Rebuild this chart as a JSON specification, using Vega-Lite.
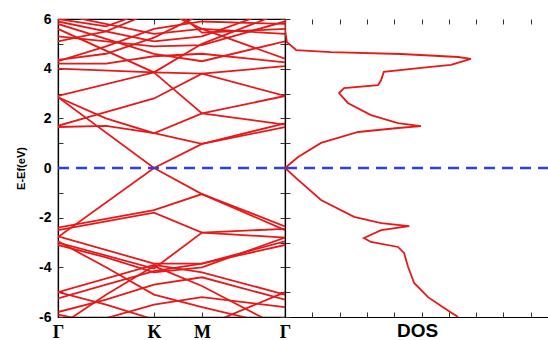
{
  "$schema": "https://vega.github.io/schema/vega-lite/v6.json",
  "autosize": {"type": "pad"},
  "padding": {"left": 14, "top": 11, "right": 0, "bottom": 0},
  "background": "white",
  "spacing": 0,
  "bounds": "flush",
  "config": {
    "view": {"stroke": "black", "strokeWidth": 1.2},
    "axis": {"domainColor": "black", "domainWidth": 1.2, "tickColor": "#333333", "labelColor": "black", "titleColor": "black", "grid": false}
  },
  "datasets": {
    "fermi": [{"E": 0}],
    "bands": [
      {"b":"b1","k":0,"E":2.85},{"b":"b1","k":1,"E":0},{"b":"b1","k":1.5,"E":0.97},{"b":"b1","k":2.365,"E":1.65},
      {"b":"b2","k":0,"E":1.65},{"b":"b2","k":0.5,"E":1.7},{"b":"b2","k":1,"E":1.4},{"b":"b2","k":1.5,"E":0.97},{"b":"b2","k":2.365,"E":1.8},
      {"b":"b3","k":0,"E":2.85},{"b":"b3","k":0.5,"E":2.0},{"b":"b3","k":1,"E":1.4},{"b":"b3","k":1.5,"E":2.2},{"b":"b3","k":2.365,"E":2.9},
      {"b":"b4","k":0,"E":1.7},{"b":"b4","k":0.36,"E":2.1},{"b":"b4","k":1,"E":2.8},{"b":"b4","k":1.5,"E":3.8},{"b":"b4","k":2.365,"E":4.1},
      {"b":"b5","k":0,"E":2.9},{"b":"b5","k":1,"E":3.85},{"b":"b5","k":1.5,"E":2.2},{"b":"b5","k":2.365,"E":1.75},
      {"b":"b6","k":0,"E":4.0},{"b":"b6","k":1,"E":3.85},{"b":"b6","k":1.5,"E":3.8},{"b":"b6","k":2.365,"E":2.9},
      {"b":"b7","k":0,"E":5.6},{"b":"b7","k":1,"E":3.85},{"b":"b7","k":1.5,"E":5.0},{"b":"b7","k":2.365,"E":6.3},
      {"b":"b8","k":0,"E":4.2},{"b":"b8","k":0.5,"E":4.2},{"b":"b8","k":1,"E":4.5},{"b":"b8","k":1.5,"E":4.6},{"b":"b8","k":2.365,"E":4.25},
      {"b":"b9","k":0,"E":5.1},{"b":"b9","k":0.5,"E":5.5},{"b":"b9","k":1,"E":6.3},
      {"b":"b10","k":0,"E":5.8},{"b":"b10","k":0.5,"E":5.2},{"b":"b10","k":1,"E":4.6},{"b":"b10","k":1.5,"E":4.3},{"b":"b10","k":2.365,"E":5.1},
      {"b":"b11","k":0,"E":6.2},{"b":"b11","k":1,"E":5.4},{"b":"b11","k":1.5,"E":5.6},{"b":"b11","k":2.365,"E":5.4},
      {"b":"b12","k":0,"E":4.3},{"b":"b12","k":0.5,"E":4.9},{"b":"b12","k":1,"E":5.6},{"b":"b12","k":1.5,"E":5.9},{"b":"b12","k":2.365,"E":5.8},
      {"b":"b13","k":0,"E":5.3},{"b":"b13","k":1,"E":4.9},{"b":"b13","k":1.5,"E":4.95},{"b":"b13","k":2.365,"E":5.9},
      {"b":"b14","k":0,"E":6.0},{"b":"b14","k":0.5,"E":5.7},{"b":"b14","k":1,"E":6.4},
      {"b":"b15","k":1,"E":6.5},{"b":"b15","k":1.5,"E":5.6},{"b":"b15","k":2.365,"E":4.4},
      {"b":"b16","k":0,"E":5.9},{"b":"b16","k":1,"E":5.1},{"b":"b16","k":1.5,"E":5.3},{"b":"b16","k":2.365,"E":6.5},
      {"b":"b17","k":0,"E":4.35},{"b":"b17","k":0.5,"E":4.6},{"b":"b17","k":1,"E":5.25},{"b":"b17","k":1.5,"E":6.2},
      {"b":"b18","k":1.2,"E":6.4},{"b":"b18","k":1.5,"E":5.45},{"b":"b18","k":2.365,"E":5.6},
      {"b":"c1","k":0,"E":-2.78},{"b":"c1","k":1,"E":0},{"b":"c1","k":1.5,"E":-1.05},{"b":"c1","k":2.365,"E":-2.35},
      {"b":"c2","k":0,"E":-2.4},{"b":"c2","k":0.5,"E":-2.05},{"b":"c2","k":1,"E":-1.7},{"b":"c2","k":1.5,"E":-1.05},{"b":"c2","k":2.365,"E":-2.5},
      {"b":"c3","k":0,"E":-2.5},{"b":"c3","k":0.5,"E":-2.15},{"b":"c3","k":1,"E":-1.8},{"b":"c3","k":1.5,"E":-2.6},{"b":"c3","k":2.365,"E":-2.8},
      {"b":"c4","k":0,"E":-2.75},{"b":"c4","k":1,"E":-3.85},{"b":"c4","k":1.5,"E":-3.85},{"b":"c4","k":2.365,"E":-2.95},
      {"b":"c5","k":0,"E":-3.0},{"b":"c5","k":1,"E":-4.05},{"b":"c5","k":1.5,"E":-2.6},{"b":"c5","k":2.365,"E":-2.45},
      {"b":"c6","k":0,"E":-5.0},{"b":"c6","k":1,"E":-3.9},{"b":"c6","k":1.5,"E":-4.2},{"b":"c6","k":2.365,"E":-5.1},
      {"b":"c7","k":0,"E":-5.0},{"b":"c7","k":0.5,"E":-5.5},{"b":"c7","k":1,"E":-6.1},{"b":"c7","k":1.5,"E":-6.6},
      {"b":"c8","k":0,"E":-5.25},{"b":"c8","k":0.5,"E":-4.7},{"b":"c8","k":1,"E":-4.15},{"b":"c8","k":1.5,"E":-3.85},{"b":"c8","k":2.365,"E":-3.1},
      {"b":"c9","k":0,"E":-5.8},{"b":"c9","k":0.5,"E":-5.3},{"b":"c9","k":1,"E":-4.7},{"b":"c9","k":1.5,"E":-4.4},{"b":"c9","k":2.365,"E":-5.3},
      {"b":"c10","k":0,"E":-2.95},{"b":"c10","k":0.5,"E":-4.0},{"b":"c10","k":1,"E":-5.1},{"b":"c10","k":1.5,"E":-5.6},{"b":"c10","k":2.365,"E":-6.4},
      {"b":"c11","k":0,"E":-6.4},{"b":"c11","k":0.5,"E":-5.1},{"b":"c11","k":1,"E":-3.95},{"b":"c11","k":1.5,"E":-4.75},{"b":"c11","k":2.365,"E":-6.5},
      {"b":"c12","k":0,"E":-5.9},{"b":"c12","k":0.5,"E":-6.3},{"b":"c12","k":1,"E":-6.6},{"b":"c12","k":1.5,"E":-6.4},{"b":"c12","k":2.365,"E":-5.0},
      {"b":"c13","k":0,"E":-3.1},{"b":"c13","k":0.5,"E":-3.6},{"b":"c13","k":1,"E":-4.2},{"b":"c13","k":1.5,"E":-4.0},{"b":"c13","k":2.365,"E":-2.8},
      {"b":"c14","k":0,"E":-6.6},{"b":"c14","k":1,"E":-5.5},{"b":"c14","k":1.5,"E":-5.2},{"b":"c14","k":2.365,"E":-5.6}
    ],
    "dos": [
      {"d":0,"E":6.0},{"d":0,"E":5.56},{"d":0.07,"E":5.07},{"d":0.41,"E":4.75},{"d":1.68,"E":4.67},{"d":4.25,"E":4.59},{"d":6.34,"E":4.47},{"d":6.81,"E":4.39},{"d":6.08,"E":4.15},{"d":4.98,"E":4.03},{"d":3.62,"E":3.87},{"d":3.52,"E":3.54},{"d":3.41,"E":3.34},{"d":2.16,"E":3.22},{"d":1.98,"E":3.02},{"d":2.30,"E":2.62},{"d":3.15,"E":2.13},{"d":4.14,"E":1.81},{"d":4.98,"E":1.69},{"d":4.14,"E":1.61},{"d":2.68,"E":1.45},{"d":1.32,"E":1.01},{"d":0.48,"E":0.44},{"d":0,"E":0},{"d":0.48,"E":-0.48},{"d":1.32,"E":-1.29},{"d":2.53,"E":-1.97},{"d":3.52,"E":-2.22},{"d":4.55,"E":-2.34},{"d":3.52,"E":-2.50},{"d":2.89,"E":-2.82},{"d":3.15,"E":-2.98},{"d":4.14,"E":-3.18},{"d":4.36,"E":-3.42},{"d":4.51,"E":-3.99},{"d":4.73,"E":-4.63},{"d":5.24,"E":-5.20},{"d":5.83,"E":-5.64},{"d":6.34,"E":-6.0}
    ]
  },
  "hconcat": [
    {
      "width": 227,
      "height": 298,
      "resolve": {"axis": {"x": "independent", "y": "independent"}},
      "layer": [
        {
          "data": {"name": "bands"},
          "mark": {"type": "line", "clip": true, "color": "#e81818", "strokeWidth": 1.8},
          "encoding": {
            "x": {"field": "k", "type": "quantitative",
              "scale": {"domain": [0, 2.365], "nice": false, "zero": false},
              "axis": {"orient": "bottom", "values": [0, 1, 1.5, 2.365], "title": null,
                "labelExpr": "datum.value == 1 ? 'K' : (datum.value == 1.5 ? 'M' : 'Γ')",
                "labelFont": "Liberation Serif", "labelFontSize": 18, "labelFontWeight": "bold",
                "tickSize": -5, "labelPadding": 11, "labelFlush": false, "labelOverlap": false}},
            "y": {"field": "E", "type": "quantitative",
              "scale": {"domain": [-6, 6], "nice": false},
              "axis": {"orient": "left", "values": [-6,-5,-4,-3,-2,-1,0,1,2,3,4,5,6],
                "labelExpr": "datum.value % 2 == 0 ? toString(datum.value) : ''",
                "labelFont": "Liberation Sans", "labelFontSize": 14, "labelFontWeight": "bold",
                "tickSize": -5, "labelPadding": 12, "labelFlush": false, "labelOverlap": false,
                "title": "E-Ef(eV)", "titleFont": "Liberation Sans", "titleFontSize": 11, "titleFontWeight": "bold", "titlePadding": 12}},
            "detail": {"field": "b"}
          }
        },
        {
          "mark": {"type": "rule", "color": "black", "strokeWidth": 1},
          "encoding": {
            "y": {"datum": 6, "axis": {"orient": "right", "values": [-6,-5,-4,-3,-2,-1,0,1,2,3,4,5,6], "labels": false, "tickSize": -5, "domain": false, "title": null}},
            "x": {"datum": 0, "axis": {"orient": "top", "values": [1, 1.5], "labels": false, "tickSize": -5, "domain": false, "title": null}},
            "x2": {"datum": 2.365}
          }
        },
        {
          "data": {"name": "fermi"},
          "mark": {"type": "rule", "color": "#2f3fe6", "strokeWidth": 2.5, "strokeDash": [11, 7]},
          "encoding": {
            "y": {"field": "E", "type": "quantitative", "axis": null}
          }
        }
      ]
    },
    {
      "width": 264,
      "height": 298,
      "view": {"stroke": null},
      "resolve": {"axis": {"x": "independent", "y": "independent"}},
      "layer": [
        {
          "data": {"name": "dos"},
          "mark": {"type": "line", "clip": true, "color": "#e81818", "strokeWidth": 1.8},
          "encoding": {
            "x": {"field": "d", "type": "quantitative",
              "scale": {"domain": [0, 9.67], "nice": false, "zero": false},
              "axis": {"orient": "bottom", "values": [1,2,3,4,5,6,7,8,9], "labels": false, "tickSize": -5,
                "title": "DOS", "titleFont": "Liberation Sans", "titleFontSize": 19, "titleFontWeight": "bold", "titlePadding": 4}},
            "y": {"field": "E", "type": "quantitative",
              "scale": {"domain": [-6, 6], "nice": false},
              "axis": {"orient": "left", "values": [-6,-5,-4,-3,-2,-1,0,1,2,3,4,5,6], "labels": false, "tickSize": -5, "title": null}},
            "order": {"field": "E", "sort": "descending"}
          }
        },
        {
          "mark": {"type": "rule", "color": "black", "strokeWidth": 1.2},
          "encoding": {
            "y": {"datum": 6, "axis": null},
            "x": {"datum": 0, "axis": {"orient": "top", "values": [1,2,3,4,5,6,7,8,9], "labels": false, "tickSize": -5, "domain": false, "title": null}},
            "x2": {"datum": 9.67}
          }
        },
        {
          "data": {"name": "fermi"},
          "mark": {"type": "rule", "color": "#2f3fe6", "strokeWidth": 2.5, "strokeDash": [11, 7]},
          "encoding": {
            "y": {"field": "E", "type": "quantitative", "axis": null}
          }
        }
      ]
    }
  ]
}
